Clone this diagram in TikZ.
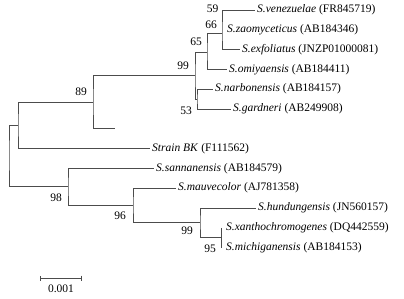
\documentclass[tikz,border=0pt]{standalone}
\usepackage{fontspec}
\setmainfont{Liberation Serif}
\usetikzlibrary{arrows.meta,positioning}

\begin{document}
\begin{tikzpicture}[x=1pt,y=-1pt,every node/.style={font=\fontsize{11.5}{13}\selectfont},
 leaf/.style={anchor=west,inner sep=2.5pt},
 boot/.style={inner sep=0pt},
 br/.style={draw=black!70,line width=0.9pt}]
\useasboundingbox (0,0) rectangle (404,298);
% leaves
\foreach \nm/\x/\r/\sp/\acc in {ven/254.5/0/venezuelae/FR845719, zao/224.5/1/zaomyceticus/AB184346, exf/239.5/2/exfoliatus/JNZP01000081, omi/226.5/3/omiyaensis/AB184411, nar/212.5/4/narbonensis/AB184157, gar/230.5/5/gardneri/AB249908, san/153.5/8/sannanensis/AB184579, mau/175.5/9/mauvecolor/AJ781358, hun/255.5/10/hundungensis/JN560157, xan/223.5/11/xanthochromogenes/DQ442559, mic/223.5/12/michiganensis/AB184153}
 {\node[leaf] (\nm) at (\x,{10+19.8*\r}) {\textit{S.\sp} (\acc)};}
\node[leaf] (bk) at (149.5,148.6) {\textit{Strain BK} (F111562)};
\coordinate (u) at (115,128.8);
% inner nodes
\coordinate (nA) at (222,33);\coordinate (nB) at (207,52);\coordinate (nC) at (195,75.5);
\coordinate (nD) at (197,99);\coordinate (nE) at (93,102);\coordinate (nF) at (18,125);
\coordinate (root) at (9,155);
\coordinate (nG) at (221,237.7);\coordinate (nH) at (200,222);\coordinate (nI) at (133,205);
\coordinate (nJ) at (68,186.7);
% branches
\draw[br] (ven.west) -| (nA) |- (exf.west);
\draw[br] (nA) -| (nB) |- (omi.west);
\draw[br] (nB) -| (nC) |- (nD);
\draw[br] (nar.west) -| (nD) |- (gar.west);
\draw[br] (nC) -| (nE) |- (u);
\draw[br] (nE) -| (nF) |- (bk.west);
\draw[br] (nF) -| (root) |- (nJ);
\draw[br] (san.west) -| (nJ) |- (nI);
\draw[br] (mau.west) -| (nI) |- (nH);
\draw[br] (hun.west) -| (nH) |- (nG);
\draw[br] (nG |- xan.west) -- (nG |- mic.west);
% bootstrap values
\node[boot] (b59) at (212.5,9) {59};\node[boot] (b66) at (211,25) {66};
\node[boot] (b65) at (196,42) {65};\node[boot] (b99) at (183,66) {99};
\node[boot] (b53) at (186,111) {53};\node[boot] (b89) at (81,92) {89};
\node[boot] (b98) at (56,198) {98};\node[boot] (b96) at (120,216) {96};
\node[boot] (b99b) at (187,231) {99};\node[boot] (b95) at (210,249) {95};
% scale
\coordinate (s0) at (40,278);\coordinate (s1) at (82,278);\coordinate (sm) at (61,278);
\draw[br,{Bar[width=5pt]}-{Bar[width=5pt]}] (s0) -- (s1);
\node[boot,below=7pt of sm] (sl) {0.001};
\end{tikzpicture}
\end{document}
